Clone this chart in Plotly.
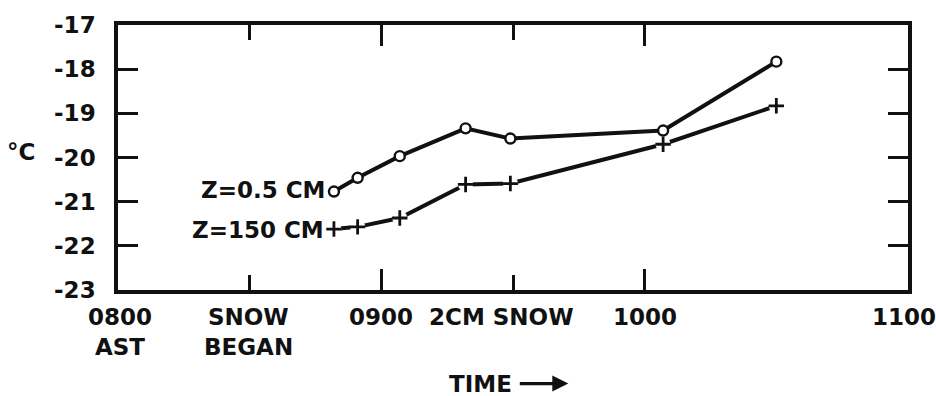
import plotly.graph_objects as go

# Time in decimal hours (AST)
time_hours = [8.82, 8.91, 9.07, 9.32, 9.49, 10.07, 10.50]
temp_z05 = [-20.77, -20.46, -19.97, -19.34, -19.57, -19.39, -17.83]
temp_z150 = [-21.62, -21.57, -21.37, -20.61, -20.59, -19.70, -18.83]

x_tick_vals = [8, 9, 10, 11]
x_minor_vals = [8.5, 9.5]
y_tick_vals = [-23, -22, -21, -20, -19, -18, -17]

# (x in hours, line1, line2, x shift)
x_labels = [
    (8.0, "0800", "AST", 2),
    (8.5, "SNOW", "BEGAN", -1),
    (9.0, "0900", "", 0),
    (9.5, "2CM SNOW", "", -12),
    (10.0, "1000", "", 0),
    (11.0, "1100", "", -4),
]

INK = "#111111"
FONT = "DejaVu Sans"
FS = 23


def tfont(size=FS):
    return dict(size=size, color=INK, family=FONT, weight="bold")


fig = go.Figure()

# Z = 0.5 cm
fig.add_trace(go.Scatter(
    x=time_hours, y=temp_z05, mode="lines+markers",
    line=dict(color=INK, width=4),
    marker=dict(symbol="circle", size=10, color="white",
                line=dict(color=INK, width=2.4)),
    showlegend=False, hoverinfo="skip"))

# Z = 150 cm: line, white gaps, plus markers
fig.add_trace(go.Scatter(
    x=time_hours, y=temp_z150, mode="lines",
    line=dict(color=INK, width=4), showlegend=False, hoverinfo="skip"))
fig.add_trace(go.Scatter(
    x=time_hours, y=temp_z150, mode="markers",
    marker=dict(symbol="circle", size=15, color="white", line=dict(width=0)),
    showlegend=False, hoverinfo="skip"))
fig.add_trace(go.Scatter(
    x=time_hours, y=temp_z150, mode="markers",
    marker=dict(symbol="cross-thin", size=11, color=INK,
                line=dict(color=INK, width=2.8)),
    showlegend=False, hoverinfo="skip"))

plot_top, plot_bottom = 21, 290
ph = plot_bottom - plot_top


def py(pix):
    return (plot_bottom - pix) / ph


ann = []
for xv, l1, l2, xs in x_labels:
    ann.append(dict(x=xv, y=py(317), xref="x", yref="paper", text=l1,
                    showarrow=False, xanchor="center", yanchor="middle",
                    xshift=xs, font=tfont()))
    if l2:
        ann.append(dict(x=xv, y=py(348), xref="x", yref="paper", text=l2,
                        showarrow=False, xanchor="center", yanchor="middle",
                        xshift=xs, font=tfont()))

ann.append(dict(x=time_hours[0], y=temp_z05[0], xref="x", yref="y",
                text="Z=0.5 CM", showarrow=False, xanchor="right",
                yanchor="middle", xshift=-7, yshift=2, font=tfont()))
ann.append(dict(x=time_hours[0], y=temp_z150[0], xref="x", yref="y",
                text="Z=150 CM", showarrow=False, xanchor="right",
                yanchor="middle", xshift=-8, yshift=-1, font=tfont()))
ann.append(dict(x=-0.123, y=py(150), xref="paper", yref="paper",
                text="°C", showarrow=False, xanchor="center",
                yanchor="middle", font=tfont()))
# TIME label and arrow
ann.append(dict(x=9.378, y=py(385), xref="x", yref="paper",
                text="TIME", showarrow=False, xanchor="center",
                yanchor="middle", font=tfont()))
ann.append(dict(x=9.71, y=py(385), xref="x", yref="paper", text="",
                showarrow=True, ax=-50, ay=0, axref="pixel", ayref="pixel",
                arrowhead=2, arrowsize=1.0, arrowwidth=3.2, arrowcolor=INK,
                standoff=0))

fig.update_layout(
    width=936, height=396,
    margin=dict(l=118, r=28, t=plot_top, b=396 - plot_bottom),
    paper_bgcolor="white", plot_bgcolor="white",
    annotations=ann,
    xaxis=dict(range=[8, 11], tickmode="array", tickvals=x_tick_vals,
               showticklabels=False, ticks="inside", ticklen=21,
               tickwidth=2.5, tickcolor=INK, showline=True, linewidth=3.5,
               linecolor=INK, mirror="ticks", showgrid=False, zeroline=False,
               minor=dict(tickmode="array", tickvals=x_minor_vals,
                          ticks="inside", ticklen=15, tickwidth=2.5,
                          tickcolor=INK, showgrid=False)),
    yaxis=dict(range=[-23, -17], tickmode="array", tickvals=y_tick_vals,
               ticktext=[str(v) for v in y_tick_vals],
               ticks="inside", ticklen=20, tickwidth=2.5, tickcolor=INK,
               showline=True, linewidth=3.5, linecolor=INK, mirror="ticks",
               showgrid=False, zeroline=False, ticklabelstandoff=14,
               tickfont=tfont()),
)

fig.write_html("out.html")
